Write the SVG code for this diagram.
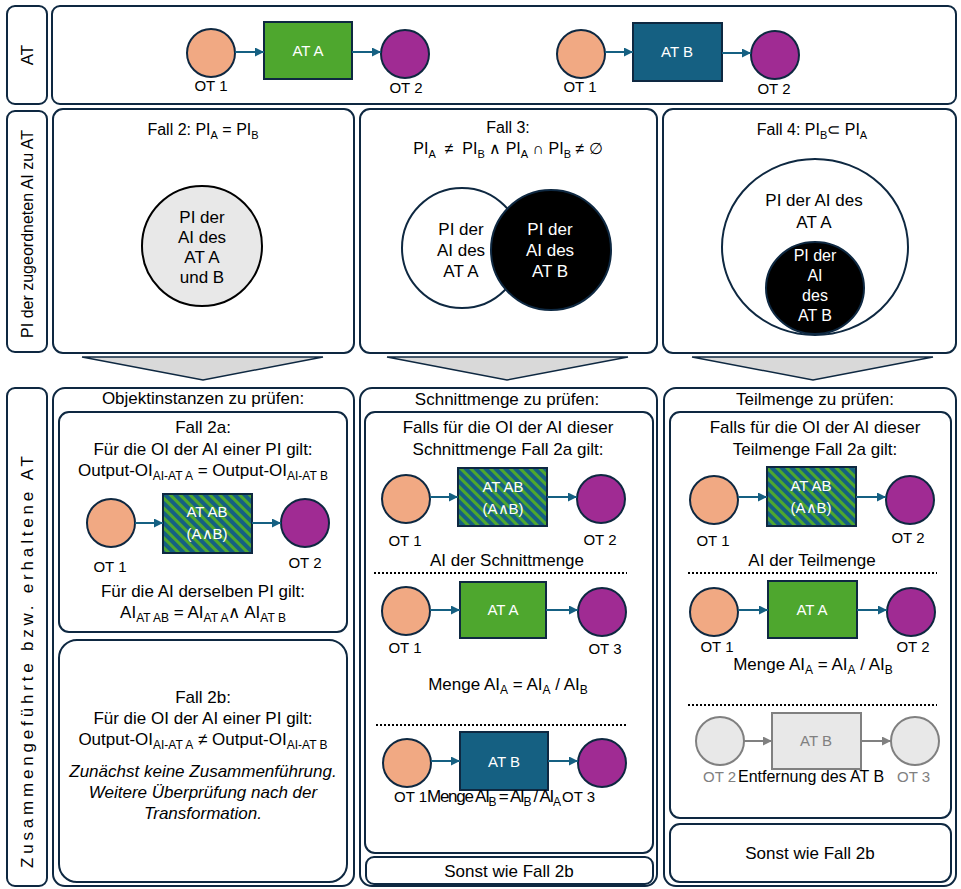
<svg xmlns="http://www.w3.org/2000/svg" width="961" height="889" viewBox="0 0 961 889">
<style>
.pnl{fill:#fff;stroke:#0E2841;stroke-width:2}
.t{font-family:"Liberation Sans",Arial,sans-serif;font-size:17px;fill:#000}
.c{text-anchor:middle}
.it{font-style:italic}
.s{font-size:12px}
.wt{font-family:"Liberation Sans",Arial,sans-serif;font-size:15px;fill:#fff;text-anchor:middle}
.ot{font-family:"Liberation Sans",Arial,sans-serif;font-size:15px;fill:#000;text-anchor:middle}
.ot1{fill:#F1A983;stroke:#0E2841;stroke-width:2}
.ot2{fill:#A02B93;stroke:#0E2841;stroke-width:2}
.ata{fill:#4EA72E;stroke:#0E2841;stroke-width:2}
.atb{fill:#156082;stroke:#0E2841;stroke-width:2}
.atab{fill:url(#hatch);stroke:#0E2841;stroke-width:2}
.gr{fill:#E8E8E8;stroke:#808080;stroke-width:2}
.conn{stroke:#156082;stroke-width:2;fill:none;marker-end:url(#arr)}
.gconn{stroke:#808080;stroke-width:2;fill:none;marker-end:url(#garr)}
.dot{stroke:#000;stroke-width:2;stroke-dasharray:2 2}
.chev{fill:#D9D9D9;stroke:#0E2841;stroke-width:1.5}
</style>
<defs>
<marker id="arr" viewBox="0 0 10 10" refX="10" refY="5" markerUnits="userSpaceOnUse" markerWidth="9" markerHeight="9" orient="auto"><path d="M0,0 L10,5 L0,10 z" fill="#156082"/></marker>
<marker id="garr" viewBox="0 0 10 10" refX="10" refY="5" markerUnits="userSpaceOnUse" markerWidth="9" markerHeight="9" orient="auto"><path d="M0,0 L10,5 L0,10 z" fill="#808080"/></marker>
<pattern id="hatch" patternUnits="userSpaceOnUse" width="7" height="7" patternTransform="rotate(-45)"><rect width="7" height="7" fill="#156082"/><rect width="3" height="7" fill="#4EA72E"/></pattern>
</defs>

<!-- Row labels -->
<g id="label-at"><rect class="pnl" x="7" y="6" width="40" height="98" rx="8"/><text class="t c" transform="translate(27,55) rotate(-90)" y="6">AT</text></g>
<g id="label-pi"><rect class="pnl" x="7" y="111" width="40" height="241" rx="8"/><text class="t c" style="font-size:16px" transform="translate(27,234) rotate(-90)" y="6">PI der zugeordneten AI zu AT</text></g>
<g id="label-zus"><rect class="pnl" x="7" y="388" width="40" height="498" rx="8"/><text class="t c" style="font-size:17px" transform="translate(27,662) rotate(-90)" y="6" textLength="412" lengthAdjust="spacing">Zusammengeführte bzw. erhaltene AT</text></g>

<!-- Top row -->
<g id="row-at">
<rect class="pnl" x="52" y="6" width="904" height="98" rx="8"/>
</g>
<g id="top-ot1a"><circle class="ot1" cx="211" cy="53" r="24"/><text class="ot" x="211" y="91">OT 1</text></g>
<g id="top-ata"><rect class="ata" x="264" y="22" width="88" height="57"/><text class="wt" x="308" y="56">AT A</text></g>
<g id="top-ot2a"><circle class="ot2" cx="405" cy="54" r="24"/><text class="ot" x="406" y="93">OT 2</text></g>
<g id="top-ot1b"><circle class="ot1" cx="581" cy="54" r="24"/><text class="ot" x="580" y="92">OT 1</text></g>
<g id="top-atb"><rect class="atb" x="633" y="23" width="89" height="58"/><text class="wt" x="677" y="57">AT B</text></g>
<g id="top-ot2b"><circle class="ot2" cx="775" cy="55" r="24"/><text class="ot" x="774" y="94">OT 2</text></g>

<!-- Row 2 -->
<g id="fall2">
<rect class="pnl" x="53" y="109" width="301" height="244" rx="10"/>
<text class="t c" style="font-size:16px" x="203" y="135">Fall 2: PI<tspan class="s" style="font-size:11px" dy="4">A</tspan><tspan dy="-4"> = PI</tspan><tspan class="s" style="font-size:11px" dy="4">B</tspan></text>
<circle cx="202" cy="246" r="60" fill="#E8E8E8" stroke="#000" stroke-width="2"/>
<text class="t c" x="202" y="223">PI der</text>
<text class="t c" x="202" y="243">AI des</text>
<text class="t c" x="202" y="263">AT A</text>
<text class="t c" x="202" y="283">und B</text>
</g>
<g id="fall3">
<rect class="pnl" x="360" y="109" width="297" height="244" rx="10"/>
<text class="t c" style="font-size:16px" x="508" y="133">Fall 3:</text>
<text class="t c" style="font-size:16px" x="508" y="154">PI<tspan class="s" style="font-size:11px" dy="4">A</tspan><tspan dy="-4" style="white-space:pre">  ≠  PI</tspan><tspan class="s" style="font-size:11px" dy="4">B</tspan><tspan dy="-4"> ∧ PI</tspan><tspan class="s" style="font-size:11px" dy="4">A</tspan><tspan dy="-4"> ∩ PI</tspan><tspan class="s" style="font-size:11px" dy="4">B</tspan><tspan dy="-4"> ≠ ∅</tspan></text>
<circle cx="462" cy="248" r="60" fill="#fff" stroke="#0E2841" stroke-width="2"/>
<circle cx="551" cy="250" r="60" fill="#000" stroke="#0E2841" stroke-width="2"/>
<text class="t c" x="461" y="235">PI der</text>
<text class="t c" x="461" y="256">AI des</text>
<text class="t c" x="461" y="277">AT A</text>
<text class="t c" x="550" y="235" style="fill:#fff">PI der</text>
<text class="t c" x="550" y="256" style="fill:#fff">AI des</text>
<text class="t c" x="550" y="277" style="fill:#fff">AT B</text>
</g>
<g id="fall4">
<rect class="pnl" x="663" y="109" width="293" height="244" rx="10"/>
<text class="t c" style="font-size:16px" x="812" y="135">Fall 4: PI<tspan class="s" style="font-size:11px" dy="4">B</tspan><tspan dy="-4">⊂ PI</tspan><tspan class="s" style="font-size:11px" dy="4">A</tspan></text>
<ellipse cx="815" cy="247" rx="93" ry="88" fill="#fff" stroke="#0E2841" stroke-width="2"/>
<ellipse cx="815" cy="288" rx="49" ry="46" fill="#000" stroke="#0E2841" stroke-width="2"/>
<text class="t c" x="814" y="206">PI der AI des</text>
<text class="t c" x="814" y="228">AT A</text>
<text class="t c" x="815" y="261" style="font-size:16px;fill:#fff">PI der</text>
<text class="t c" x="815" y="281" style="font-size:16px;fill:#fff">AI</text>
<text class="t c" x="815" y="301" style="font-size:16px;fill:#fff">des</text>
<text class="t c" x="815" y="321" style="font-size:16px;fill:#fff">AT B</text>
</g>

<!-- Chevrons -->
<g id="chevrons">
<polygon class="chev" points="82,357 323,357 203,380"/>
<polygon class="chev" points="387,357 628,357 507,380"/>
<polygon class="chev" points="692,357 933,357 813,380"/>
</g>

<!-- Row 3, panel 1 -->
<g id="panel-oi">
<rect class="pnl" x="53" y="388" width="301" height="498" rx="12"/>
<text class="t c" x="203" y="404">Objektinstanzen zu prüfen:</text>
</g>
<g id="fall2a">
<rect class="pnl" x="59" y="412" width="288" height="220" rx="10"/>
<text class="t c" x="203" y="433">Fall 2a:</text>
<text class="t c" x="203" y="455">Für die OI der AI einer PI gilt:</text>
<text class="t c" x="203" y="476">Output-OI<tspan class="s" dy="4">AI-AT A</tspan><tspan dy="-4"> = Output-OI</tspan><tspan class="s" dy="4">AI-AT B</tspan></text>
<text class="t c" x="203" y="597">Für die AI derselben PI gilt:</text>
<text class="t c" x="203" y="618">AI<tspan class="s" dy="4">AT AB</tspan><tspan dy="-4"> = AI</tspan><tspan class="s" dy="4">AT A</tspan><tspan dy="-4">∧ AI</tspan><tspan class="s" dy="4">AT B</tspan></text>
</g>
<g id="p1-ot1"><circle class="ot1" cx="111" cy="523" r="24"/><text class="ot" x="110" y="572">OT 1</text></g>
<g id="p1-atab"><rect class="atab" x="163" y="494" width="89" height="59"/><text class="wt" x="207" y="517">AT AB</text><text class="wt" x="207" y="539">(A∧B)</text></g>
<g id="p1-ot2"><circle class="ot2" cx="305" cy="523" r="24"/><text class="ot" x="305" y="568">OT 2</text></g>
<g id="fall2b">
<rect class="pnl" x="59" y="640" width="288" height="242" rx="18"/>
<text class="t c" x="203" y="703">Fall 2b:</text>
<text class="t c" x="203" y="724">Für die OI der AI einer PI gilt:</text>
<text class="t c" x="203" y="745">Output-OI<tspan class="s" dy="4">AI-AT A</tspan><tspan dy="-4"> ≠ Output-OI</tspan><tspan class="s" dy="4">AI-AT B</tspan></text>
<text class="t c it" x="203" y="777">Zunächst keine Zusammenführung.</text>
<text class="t c it" x="203" y="798">Weitere Überprüfung nach der</text>
<text class="t c it" x="203" y="819">Transformation.</text>
</g>

<!-- Row 3, panel 2 -->
<g id="panel-schnitt">
<rect class="pnl" x="360" y="388" width="297" height="498" rx="12"/>
<text class="t c" x="507" y="405">Schnittmenge zu prüfen:</text>
<rect class="pnl" x="365" y="412" width="288" height="441" rx="10"/>
<text class="t c" x="508" y="433">Falls für die OI der AI dieser</text>
<text class="t c" x="508" y="455">Schnittmenge Fall 2a gilt:</text>
<text class="t c" x="507" y="566">AI der Schnittmenge</text>
<line class="dot" x1="374" y1="573" x2="627" y2="573"/>
<text class="t c" x="508" y="690">Menge AI<tspan class="s" dy="4">A</tspan><tspan dy="-4"> = AI</tspan><tspan class="s" dy="4">A</tspan><tspan dy="-4"> / AI</tspan><tspan class="s" dy="4">B</tspan></text>
<line class="dot" x1="376" y1="725" x2="628" y2="725"/>
</g>
<g id="p2-ot1a"><circle class="ot1" cx="406" cy="499" r="24"/><text class="ot" x="405" y="546">OT 1</text></g>
<g id="p2-atab"><rect class="atab" x="458" y="468" width="89" height="58"/><text class="wt" x="503" y="492">AT AB</text><text class="wt" x="503" y="514">(A∧B)</text></g>
<g id="p2-ot2"><circle class="ot2" cx="601" cy="499" r="24"/><text class="ot" x="600" y="545">OT 2</text></g>
<g id="p2-ot1b"><circle class="ot1" cx="406" cy="611" r="24"/><text class="ot" x="405" y="653">OT 1</text></g>
<g id="p2-ata"><rect class="ata" x="460" y="582" width="86" height="56"/><text class="wt" x="503" y="615">AT A</text></g>
<g id="p2-ot3a"><circle class="ot2" cx="602" cy="612" r="24"/><text class="ot" x="605" y="654">OT 3</text></g>
<g id="p2-ot1c"><circle class="ot1" cx="407" cy="763" r="24"/><text class="ot" x="394" y="802" style="text-anchor:start">OT 1</text></g>
<g id="p2-atb"><rect class="atb" x="460" y="732" width="88" height="58"/><text class="wt" x="504" y="767">AT B</text></g>
<g id="p2-ot3b"><circle class="ot2" cx="602" cy="763" r="24"/><text class="ot" x="562" y="802" style="text-anchor:start">OT 3</text></g>
<g id="p2-menge-b"><text class="t" x="427" y="802" textLength="134" lengthAdjust="spacing">Menge AI<tspan class="s" dy="4">B</tspan><tspan dy="-4"> = AI</tspan><tspan class="s" dy="4">B</tspan><tspan dy="-4"> / AI</tspan><tspan class="s" dy="4">A</tspan></text></g>
<g id="p2-sonst"><rect class="pnl" x="366" y="857" width="287" height="27" rx="8"/><text class="t c" x="509" y="877">Sonst wie Fall 2b</text></g>

<!-- Row 3, panel 3 -->
<g id="panel-teil">
<rect class="pnl" x="664" y="388" width="292" height="498" rx="12"/>
<text class="t c" x="815" y="405">Teilmenge zu prüfen:</text>
<rect class="pnl" x="670" y="412" width="281" height="406" rx="10"/>
<text class="t c" x="815" y="433">Falls für die OI der AI dieser</text>
<text class="t c" x="815" y="455">Teilmenge Fall 2a gilt:</text>
<text class="t c" x="812" y="566">AI der Teilmenge</text>
<line class="dot" x1="688" y1="573" x2="937" y2="573"/>
<text class="t c" x="813" y="670">Menge AI<tspan class="s" dy="4">A</tspan><tspan dy="-4"> = AI</tspan><tspan class="s" dy="4">A</tspan><tspan dy="-4"> / AI</tspan><tspan class="s" dy="4">B</tspan></text>
<line class="dot" x1="688" y1="705" x2="937" y2="705"/>
</g>
<g id="p3-ot1a"><circle class="ot1" cx="714" cy="500" r="24"/><text class="ot" x="713" y="546">OT 1</text></g>
<g id="p3-atab"><rect class="atab" x="767" y="467" width="89" height="59"/><text class="wt" x="811" y="491">AT AB</text><text class="wt" x="811" y="513">(A∧B)</text></g>
<g id="p3-ot2a"><circle class="ot2" cx="910" cy="500" r="24"/><text class="ot" x="908" y="543">OT 2</text></g>
<g id="p3-ot1b"><circle class="ot1" cx="714" cy="612" r="24"/><text class="ot" x="717" y="652">OT 1</text></g>
<g id="p3-ata"><rect class="ata" x="768" y="581" width="89" height="57"/><text class="wt" x="812" y="615">AT A</text></g>
<g id="p3-ot2b"><circle class="ot2" cx="911" cy="612" r="24"/><text class="ot" x="913" y="652">OT 2</text></g>
<g id="p3-ot2g"><circle class="gr" cx="720" cy="741" r="24"/><text class="ot" x="703" y="782" style="text-anchor:start;fill:#808080">OT 2</text></g>
<g id="p3-atbg"><rect class="gr" x="772" y="713" width="89" height="56"/><text class="ot" x="816" y="746" style="fill:#808080">AT B</text></g>
<g id="p3-ot3g"><circle class="gr" cx="915" cy="741" r="24"/><text class="ot" x="897" y="782" style="text-anchor:start;fill:#808080">OT 3</text></g>
<g id="p3-entf"><text class="t" style="font-size:16px" x="738" y="782">Entfernung des AT B</text></g>
<g id="p3-sonst"><rect class="pnl" x="670" y="824" width="281" height="58" rx="10"/><text class="t c" x="810" y="859">Sonst wie Fall 2b</text></g>

<!-- Connectors -->
<g id="connectors">
<line class="conn" x1="235" y1="52" x2="264" y2="52"/>
<line class="conn" x1="352" y1="52" x2="381" y2="52"/>
<line class="conn" x1="605" y1="52" x2="633" y2="52"/>
<line class="conn" x1="722" y1="53" x2="751" y2="53"/>
<line class="conn" x1="135" y1="523" x2="163" y2="523"/>
<line class="conn" x1="252" y1="523" x2="281" y2="523"/>
<line class="conn" x1="430" y1="497" x2="458" y2="497"/>
<line class="conn" x1="547" y1="497" x2="577" y2="497"/>
<line class="conn" x1="430" y1="610" x2="460" y2="610"/>
<line class="conn" x1="546" y1="610" x2="578" y2="610"/>
<line class="conn" x1="431" y1="761" x2="460" y2="761"/>
<line class="conn" x1="548" y1="761" x2="578" y2="761"/>
<line class="conn" x1="738" y1="497" x2="767" y2="497"/>
<line class="conn" x1="856" y1="497" x2="886" y2="497"/>
<line class="conn" x1="738" y1="610" x2="768" y2="610"/>
<line class="conn" x1="857" y1="610" x2="887" y2="610"/>
<line class="gconn" x1="744" y1="741" x2="772" y2="741"/>
<line class="gconn" x1="861" y1="741" x2="891" y2="741"/>
</g>
</svg>
